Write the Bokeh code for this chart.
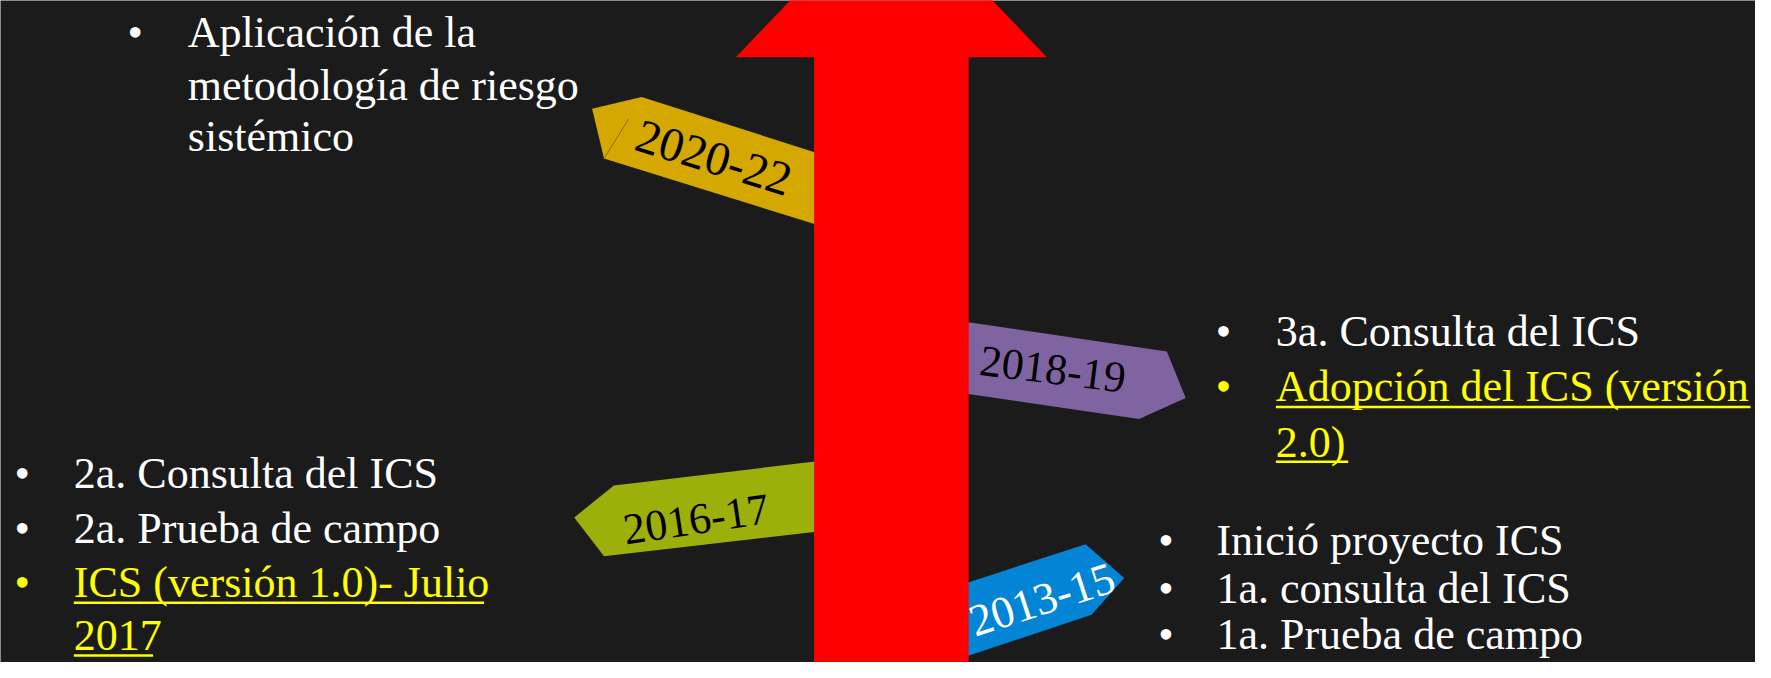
from bokeh.plotting import figure
from bokeh.models import Range1d, ColumnDataSource
from bokeh.core.properties import value
from bokeh.embed import file_html
from bokeh.resources import INLINE
import math

# ---------------- data ----------------
periods = ["2013-15", "2016-17", "2018-19", "2020-22"]
period_colors = ["#0384D4", "#9DAF0B", "#8064A2", "#D4A800"]
period_text_colors = ["white", "black", "black", "black"]

items_2013 = ["Inició proyecto ICS", "1a. consulta del ICS", "1a. Prueba de campo"]
items_2016 = ["2a. Consulta del ICS", "2a. Prueba de campo", "ICS (versión 1.0)- Julio", "2017"]
items_2016_hl = [False, False, True, True]
items_2016_bullet = [True, True, True, False]
items_2018 = ["3a. Consulta del ICS", "Adopción del ICS (versión", "2.0)"]
items_2018_hl = [False, True, True]
items_2018_bullet = [True, True, False]
items_2020 = ["Aplicación de la", "metodología de riesgo", "sistémico"]
items_2020_bullet = [True, False, False]

# ---------------- layout (slide pixel space) ----------------
W, H = 1755, 662
X0, X1 = -4, 1767
Y0, Y1 = 0, 666
FONT = value("Liberation Serif")
BG = "#1b1b1b"
RED = "#FF0000"
YELLOW = "#FFFF00"
FS = 44

tag_shapes = {
    "2013-15": ([940, 1091, 1130, 1097, 940], [596, 547, 581, 618, 670]),
    "2016-17": ([575, 615, 850, 850, 605], [520, 488, 460, 531, 559]),
    "2018-19": ([940, 1173, 1192, 1145, 940], [319, 353, 400, 421, 391]),
    "2020-22": ([593, 643, 850, 850, 605], [109, 97, 163, 235, 159]),
}
tag_label_pos = {
    "2013-15": (1047, 603, 18.0, 45),
    "2016-17": (698, 522, 8.5, 44),
    "2018-19": (1058, 371, -7.0, 44),
    "2020-22": (716, 158, -17.0, 48),
}
arrow_x = [817, 817, 738, 895, 1052, 973, 973]
arrow_y = [700, 57, 57, -106, 57, 57, 700]

# text blocks: text_x, bullet_x, baselines
blocks = {
    "2013-15": (1223, 1172, [556, 604, 651]),
    "2016-17": (70, 18, [489, 544, 598, 652]),
    "2018-19": (1283, 1230, [346, 401, 457]),
    "2020-22": (185, 132, [45, 98, 150]),
}

p = figure(width=W, height=H, x_range=Range1d(X0, X1), y_range=Range1d(Y1, Y0),
           output_backend="svg", toolbar_location=None, min_border=0)
p.axis.visible = False
p.grid.visible = False
p.outline_line_color = None
p.background_fill_color = BG
p.border_fill_color = BG

# tags
xs = [tag_shapes[k][0] for k in periods]
ys = [tag_shapes[k][1] for k in periods]
p.patches(xs=xs, ys=ys, fill_color=period_colors, line_color=None)
# fold line on the gold tag
p.segment(x0=[605], y0=[159], x1=[630], y1=[119], line_color="#8a6f00", line_width=1)

# tag labels
for k, tc in zip(periods, period_text_colors):
    x, y, a, fs = tag_label_pos[k]
    p.text(x=[x], y=[y], text=[k], angle=math.radians(a), text_color=tc,
           text_font=FONT, text_font_size=f"{fs}px", text_align="center",
           text_baseline="middle")

# big red arrow
p.patch(x=arrow_x, y=arrow_y, fill_color=RED, line_color=None)


def draw_block(key, items, hl=None, bullets=None):
    tx, bx, bases = blocks[key]
    hl = hl or [False] * len(items)
    bullets = bullets or [True] * len(items)
    for t, h, b, base in zip(items, hl, bullets, bases):
        y = base - 0.29 * FS
        col = YELLOW if h else "white"
        p.text(x=[tx], y=[y], text=[t], text_color=col, text_font=FONT,
               text_font_size=f"{FS}px", text_align="left", text_baseline="middle")
        if b:
            p.text(x=[bx], y=[y], text=["•"], text_color=col, text_font=FONT,
                   text_font_size=f"{FS}px", text_align="center", text_baseline="middle")


draw_block("2013-15", items_2013)
draw_block("2016-17", items_2016, items_2016_hl, items_2016_bullet)
draw_block("2018-19", items_2018, items_2018_hl, items_2018_bullet)
draw_block("2020-22", items_2020, None, items_2020_bullet)

# underlines for the highlighted (link) lines
ul = ColumnDataSource(dict(
    x0=[70, 70, 1283, 1283],
    x1=[484, 150, 1762, 1356],
    y=[606, 659, 409, 464],
))
p.segment(x0="x0", y0="y", x1="x1", y1="y", source=ul, line_color=YELLOW, line_width=2.5)

open("out.html", "w").write(file_html(p, INLINE))
